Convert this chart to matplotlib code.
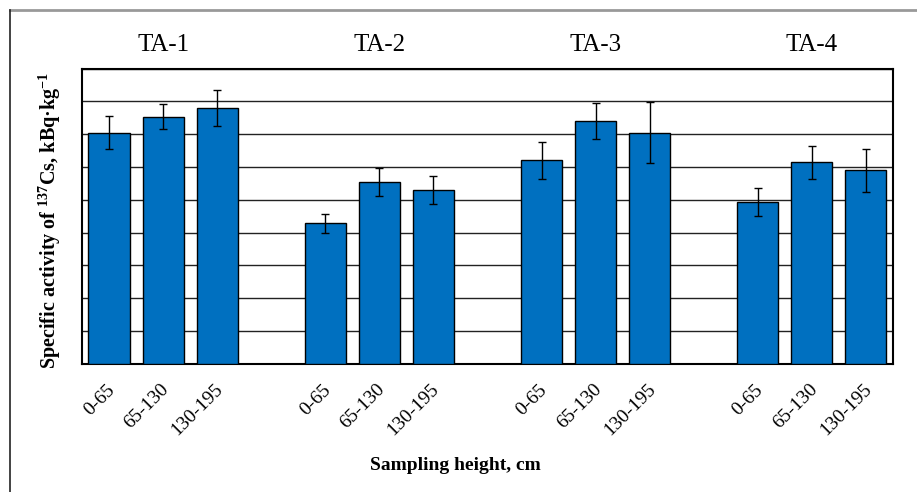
import matplotlib
matplotlib.use("Agg")
import matplotlib.pyplot as plt
from matplotlib.lines import Line2D
from matplotlib.transforms import ScaledTranslation

plt.rcParams['font.family'] = ['Liberation Serif', 'DejaVu Serif']
plt.rcParams['mathtext.fontset'] = 'custom'
plt.rcParams['mathtext.rm'] = 'Liberation Serif'
plt.rcParams['mathtext.bf'] = 'Liberation Serif:bold'

# Data (arbitrary units)
groups = ["TA-1", "TA-2", "TA-3", "TA-4"]
heights = ["0-65", "65-130", "130-195"]
values = [
    [7.05, 7.54, 7.80],
    [4.29, 5.54, 5.30],
    [6.20, 7.39, 7.05],
    [4.94, 6.14, 5.90],
]
errors = [
    [0.50, 0.38, 0.55],
    [0.29, 0.43, 0.43],
    [0.57, 0.55, 0.93],
    [0.42, 0.50, 0.65],
]

fig = plt.figure(figsize=(9.17, 4.92), dpi=100)
ax = fig.add_axes([0.0894, 0.2608, 0.8844, 0.5996])

# one slot per bar, with an empty slot between groups
x_pos = []
labels = []
for g in range(len(groups)):
    for h in range(len(heights)):
        x_pos.append(g * 4 + h)
        labels.append(heights[h])
flat_vals = [v for row in values for v in row]
flat_err = [e for row in errors for e in row]

ax.bar(x_pos, flat_vals, width=0.76, color="#0070C0", edgecolor="black",
       linewidth=1.0, zorder=3)
ax.errorbar(x_pos, flat_vals, yerr=flat_err, fmt="none", ecolor="black",
            elinewidth=1.0, capsize=3.2, capthick=1.0, zorder=4)

ax.set_xlim(-0.5, 14.5)
ax.set_ylim(0, 9)
ax.set_yticks(range(0, 10))
ax.set_yticklabels([])
ax.yaxis.grid(True, color="#222222", linewidth=1.0, zorder=0)
ax.set_axisbelow(True)
ax.tick_params(axis="y", length=0)
ax.tick_params(axis="x", length=0, pad=12.5)
ax.set_xticks(x_pos)
ax.set_xticklabels(labels, rotation=45, ha="right", rotation_mode="anchor",
                   fontsize=14)
shift = ScaledTranslation(-3 / 100, 0, fig.dpi_scale_trans)
for lbl in ax.get_xticklabels():
    lbl.set_transform(lbl.get_transform() + shift)
for s in ax.spines.values():
    s.set_linewidth(1.5)

for g, name in enumerate(groups):
    ax.text(g * 4 + 1, 9.72, name, ha="center", va="center", fontsize=18)

ax.set_ylabel(r"Specific activity of $\mathbf{^{137}}$Cs, kBq·kg$\mathbf{^{-1}}$",
              fontsize=14.5, fontweight="bold")
ax.yaxis.set_label_coords(-0.0236, 0.485)
fig.text(455 / 917, 1 - 466 / 492, "Sampling height, cm", ha="center",
         va="center", fontsize=14, fontweight="bold")

# frame around the picture
fig.add_artist(Line2D([10 / 917, 1], [1 - 10 / 492] * 2, color="#999999",
                      linewidth=2, transform=fig.transFigure))
fig.add_artist(Line2D([10 / 917] * 2, [0, 1 - 10 / 492], color="#222222",
                      linewidth=1.2, transform=fig.transFigure))

fig.savefig("out.png", dpi=100)
